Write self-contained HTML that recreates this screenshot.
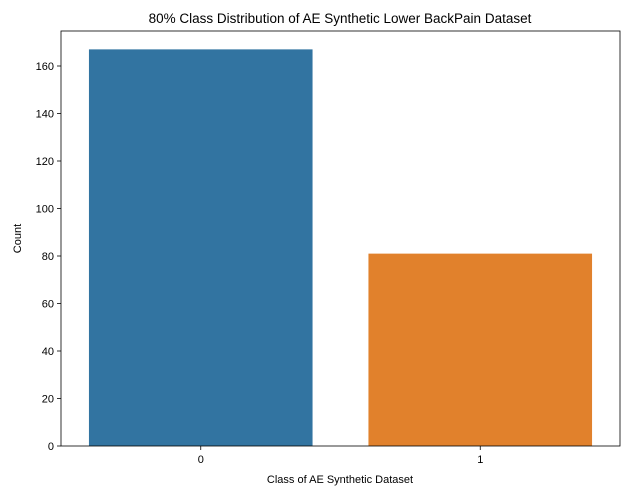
<!DOCTYPE html>
<html><head><meta charset="utf-8"><style>
body{margin:0;background:#fff;}
svg{display:block;font-family:"Liberation Sans","DejaVu Sans",sans-serif;}
</style></head><body>
<svg id="chart" width="642" height="504">
<text x="340" y="23" font-size="13.5" text-anchor="middle" fill="#000">80% Class Distribution of AE Synthetic Lower BackPain Dataset</text>
<g id="bars"></g>
<g id="axes"></g>
<text x="340" y="483" font-size="11" text-anchor="middle">Class of AE Synthetic Dataset</text>
<text x="21" y="238.5" font-size="11" text-anchor="middle" transform="rotate(-90 21 238.5)">Count</text>
</svg>
<script>
const categories = ["0","1"];
const counts = [167, 81];
const yTicks = [0,20,40,60,80,100,120,140,160];
const colors = ["#3274a1","#e1812c"];
const L=61,R=620,T=31,B=446;
const y = v => B - v*(B-66)/160;
const bw = (R-L)/categories.length;
const xc = i => L + bw*(i+0.5);
const ns="http://www.w3.org/2000/svg";
const bars=document.getElementById('bars'), axes=document.getElementById('axes');
function mk(tag,attrs,parent){const e=document.createElementNS(ns,tag);for(const k in attrs)e.setAttribute(k,attrs[k]);parent.appendChild(e);return e;}
categories.forEach((c,i)=>{
  const r=mk('rect',{x:xc(i)-bw*0.4,y:y(counts[i]),width:bw*0.8,height:B-y(counts[i]),fill:colors[i]},bars);
  
  
  const t=mk('line',{x1:xc(i),x2:xc(i),y1:B,y2:B+4,stroke:'#000','stroke-width':0.8},axes);
  
  
  const l=mk('text',{x:xc(i),y:B+17,'font-size':11,'text-anchor':'middle'},axes);
  l.textContent=c;
  
  
});
yTicks.forEach(v=>{
  const t=mk('line',{x1:L-4,x2:L,y1:y(v),y2:y(v),stroke:'#000','stroke-width':0.8},axes);
  
  
  const l=mk('text',{x:L-7,y:y(v)+4,'font-size':11,'text-anchor':'end'},axes);
  l.textContent=v;
  
  
});
const f=mk('rect',{x:L,y:T,width:R-L,height:B-T,fill:'none',stroke:'#000','stroke-width':0.8},axes);


</script>
</body></html>
